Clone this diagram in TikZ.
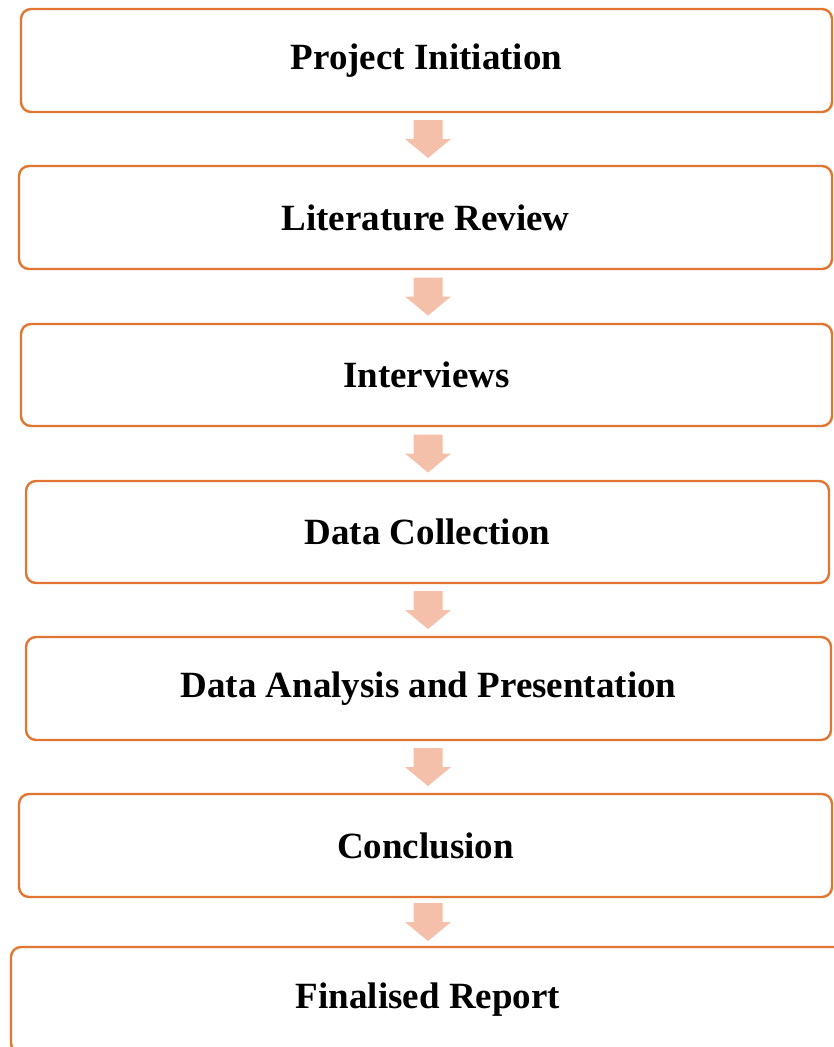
\documentclass[tikz,border=0pt]{standalone}
\usepackage{fontspec}
\setmainfont{Liberation Serif}
\usepackage{xcolor}
\usetikzlibrary{positioning,calc}
\definecolor{boxorange}{RGB}{224,118,50}
\definecolor{arrowpeach}{RGB}{245,192,170}

\begin{document}
\begin{tikzpicture}[
    x=1pt, y=1pt,
    font=\fontsize{37}{44}\selectfont\bfseries,
    step_box/.style={draw=boxorange, line width=2.4pt, rounded corners=10pt, fill=white, inner sep=0pt, minimum height=103pt},
    flow_arrow/.pic={\fill[arrowpeach] (-14.5,19) -- (14.5,19) -- (14.5,0) -- (23,0) -- (0,-19) -- (-23,0) -- (-14.5,0) -- cycle;}
]
\useasboundingbox (0,0) rectangle (834,-1047);

\node (init)     [step_box, minimum width=811pt] at (426.5,-60.5)  {Project Initiation};
\node (litrev)   [step_box, minimum width=813pt] at (425.5,-217.5) {Literature Review};
\node (interv)   [step_box, minimum width=811pt, minimum height=102pt] at (426.5,-375) {Interviews};
\node (datacol)  [step_box, minimum width=803pt, minimum height=102pt] at (427.5,-532) {Data Collection};
\node (analysis) [step_box, minimum width=805pt] at (428.5,-688.5) {Data Analysis and Presentation};
\node (concl)    [step_box, minimum width=813pt] at (425.5,-845.5) {Conclusion};
\node (report)   [step_box, minimum width=834pt, minimum height=106pt] at (428,-1000) {Finalised Report};

% block arrows between the steps
\foreach \a/\b in {init/litrev, litrev/interv, interv/datacol, datacol/analysis, analysis/concl, concl/report}
    \path let \p1=($(\a.south)!0.5!(\b.north)$) in (428,\y1) pic {flow_arrow};

\end{tikzpicture}
\end{document}
